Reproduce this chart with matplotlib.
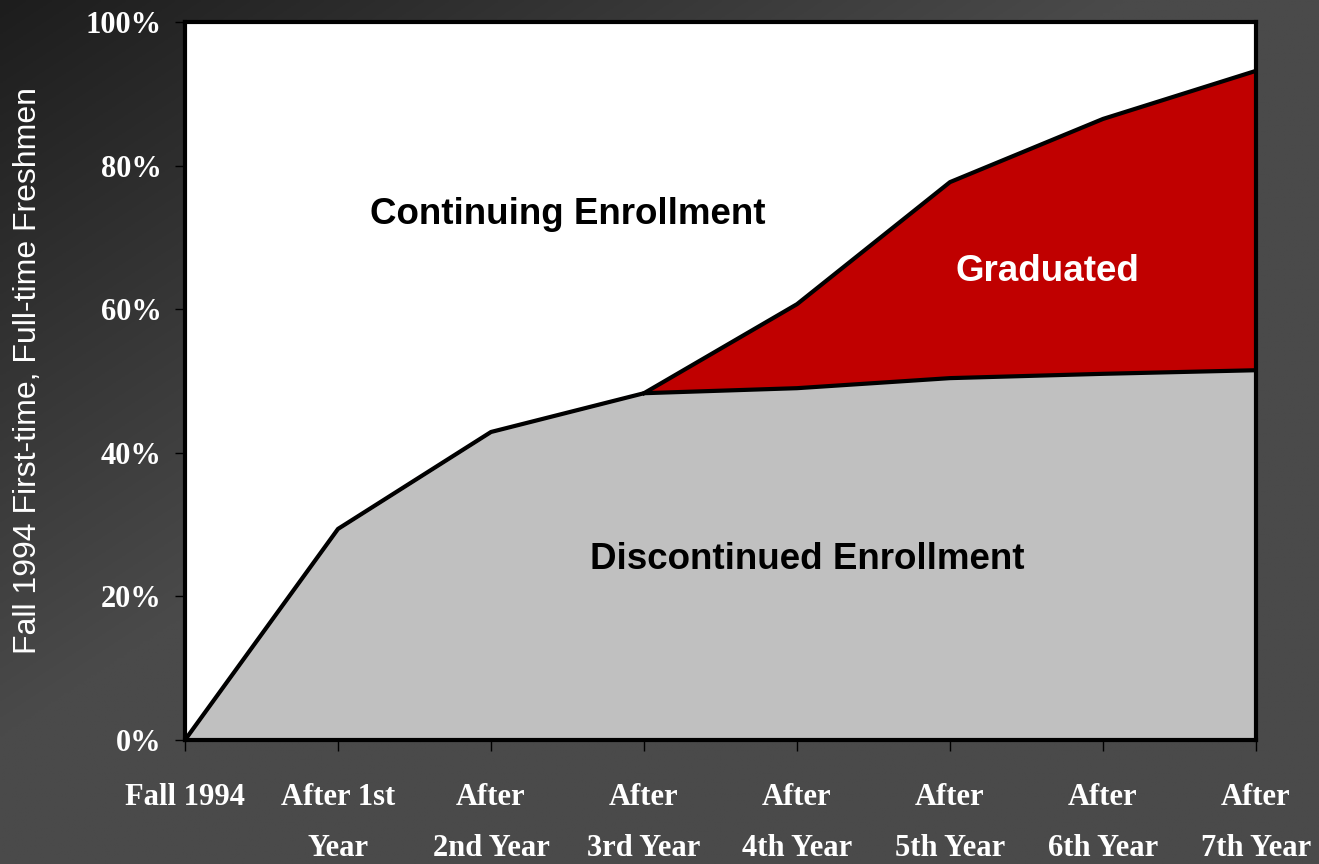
import numpy as np
import matplotlib.pyplot as plt

categories = ["Fall 1994", "After 1st\nYear", "After\n2nd Year", "After\n3rd Year",
              "After\n4th Year", "After\n5th Year", "After\n6th Year", "After\n7th Year"]
discontinued = [0, 29.4, 42.9, 48.3, 49.0, 50.4, 51.0, 51.5]
graduated = [0, 0, 0, 0, 11.7, 27.3, 35.5, 41.7]
yticks = [0, 20, 40, 60, 80, 100]

fig = plt.figure(figsize=(13.19, 8.64), dpi=100)

# dark diagonal gradient background
bg = fig.add_axes([0, 0, 1, 1], zorder=-10)
xx, yy = np.meshgrid(np.linspace(0, 1, 400), np.linspace(0, 1, 300))
t = np.clip((xx + yy) / 0.85, 0, 1)
shade = (0x1d + t * (0x4a - 0x1d)) / 255.0
bg.imshow(np.dstack([shade, shade, shade]), aspect="auto", extent=[0, 1, 1, 0])
bg.set_axis_off()

ax = fig.add_axes([185 / 1319, 124 / 864, 1071 / 1319, 718 / 864])
ax.set_facecolor("white")

x = np.arange(len(categories))
disc = np.array(discontinued)
total = disc + np.array(graduated)

ax.fill_between(x, 0, disc, color="#c0c0c0", zorder=1)
ax.fill_between(x, disc, total, color="#c00000", zorder=1)
ax.plot(x, disc, color="black", lw=3, zorder=3, solid_joinstyle="round")
ax.plot(x[3:], total[3:], color="black", lw=3, zorder=3, solid_joinstyle="round")

ax.set_xlim(0, len(categories) - 1)
ax.set_ylim(0, 100)
ax.set_xticks(x)
ax.set_xticklabels(categories, linespacing=2.0)
ax.set_yticks(yticks)
ax.set_yticklabels([f"{v}%" for v in yticks])

for lab in ax.get_xticklabels() + ax.get_yticklabels():
    lab.set_fontfamily("Liberation Serif")
    lab.set_fontweight("bold")
    lab.set_color("white")
    lab.set_fontsize(22)

ax.tick_params(axis="x", direction="out", length=8, width=1, color="black", pad=23)
ax.tick_params(axis="y", direction="out", length=7, width=1, color="black", pad=10)
for sp in ax.spines.values():
    sp.set_linewidth(3)
    sp.set_color("black")
    sp.set_zorder(4)

ax.set_ylabel("Fall 1994 First-time, Full-time Freshmen", color="white",
              fontsize=23, family="Liberation Sans", labelpad=0)
ax.yaxis.set_label_coords(-0.133, 0.515)

ax.text(2.5, 73.2, "Continuing Enrollment", ha="center", va="center",
        fontsize=26.5, fontweight="bold", family="Liberation Sans", color="black")
ax.text(5.64, 65.2, "Graduated", ha="center", va="center",
        fontsize=26.5, fontweight="bold", family="Liberation Sans", color="white")
ax.text(4.07, 25.1, "Discontinued Enrollment", ha="center", va="center",
        fontsize=26.5, fontweight="bold", family="Liberation Sans", color="black")

fig.savefig("out.png", dpi=100)
